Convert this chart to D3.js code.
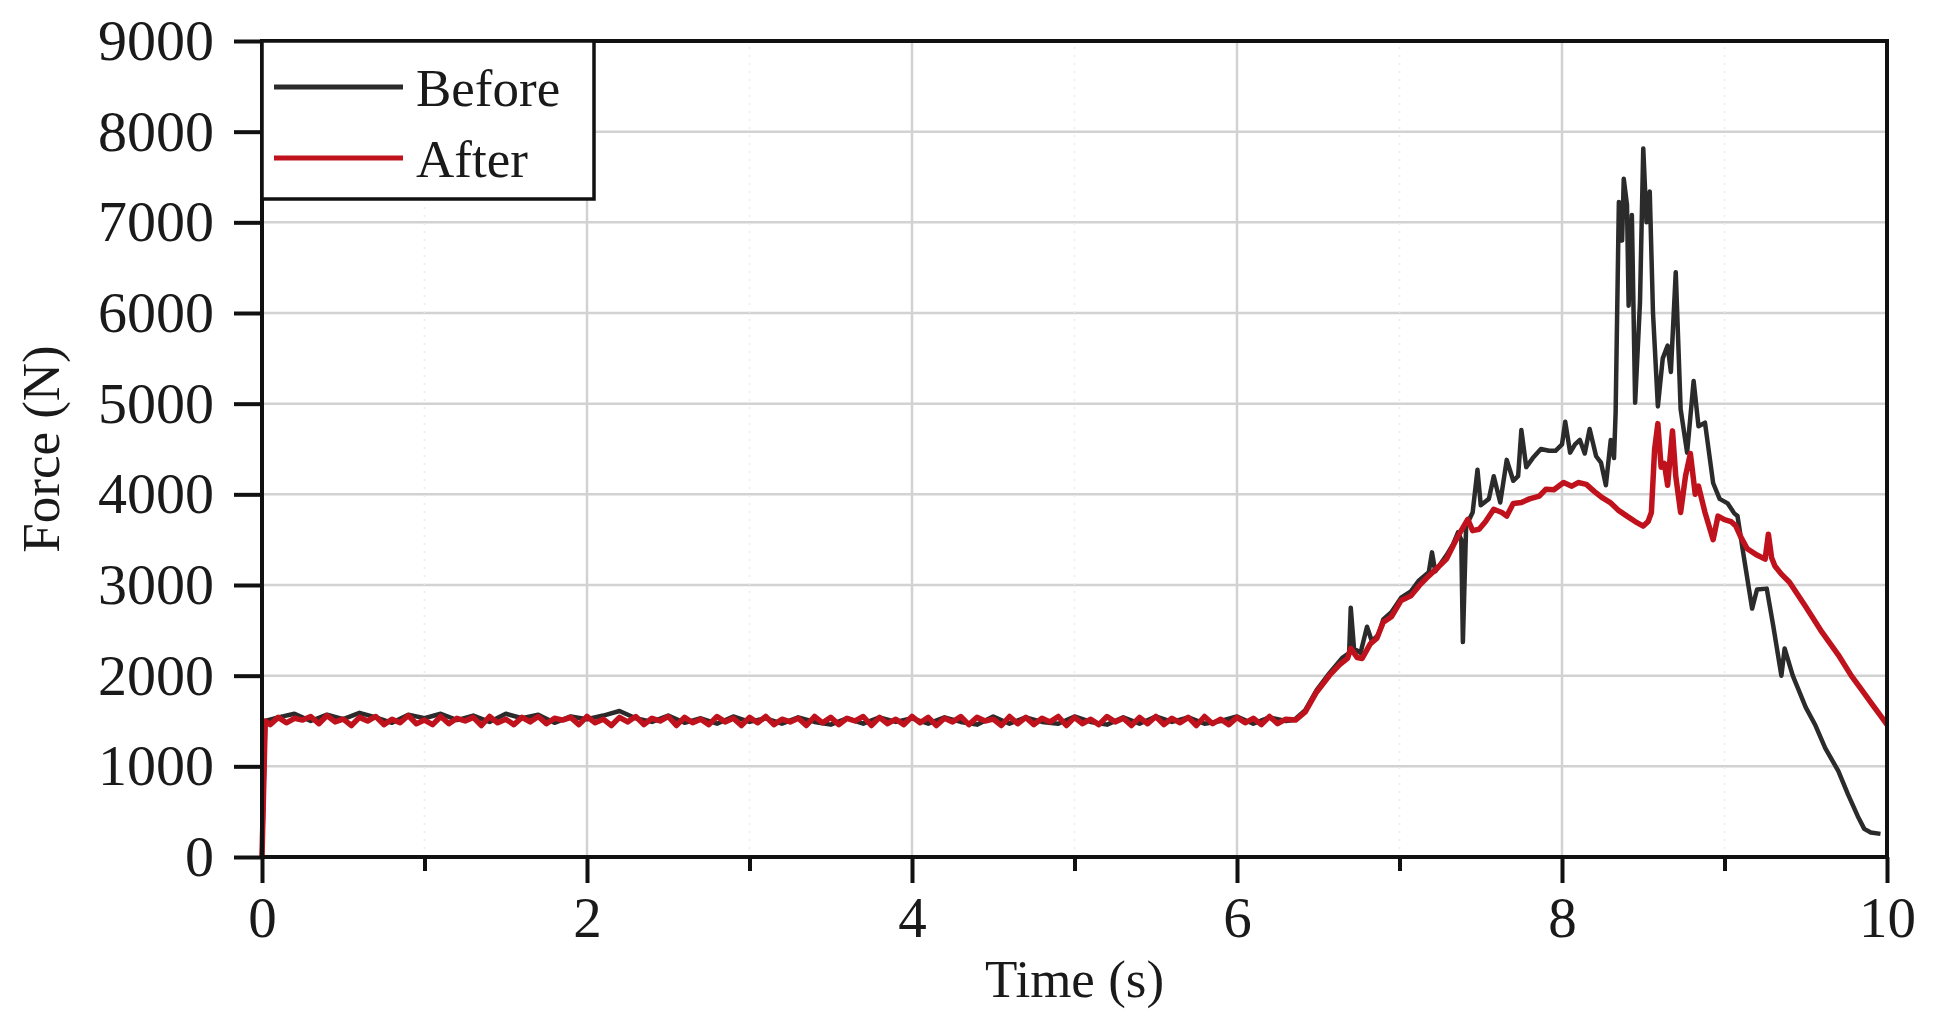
<!DOCTYPE html>
<html>
<head>
<meta charset="utf-8">
<script src="https://cdn.jsdelivr.net/npm/d3@7"></script>
<style>
  html, body { margin: 0; padding: 0; background: #fff; }
  svg { display: block; }
</style>
</head>
<body>
<script>
// data
const seriesNames = ["Before", "After"];
const seriesColors = ["#2b2b2b", "#c0121c"];
const xTicks = [0, 2, 4, 6, 8, 10];
const xMinor = [1, 3, 5, 7, 9];
const yTicks = [0, 1000, 2000, 3000, 4000, 5000, 6000, 7000, 8000, 9000];

const start = [[0, 0], [0.02, 1500]];

// before: sampled every 0.1 s on the flat part
const beforeTimes = [0.1, 0.2, 0.3, 0.4, 0.5, 0.6, 0.7, 0.8, 0.9, 1.0,
  1.1, 1.2, 1.3, 1.4, 1.5, 1.6, 1.7, 1.8, 1.9, 2.0,
  2.1, 2.2, 2.3, 2.4, 2.5, 2.6, 2.7, 2.8, 2.9, 3.0,
  3.1, 3.2, 3.3, 3.4, 3.5, 3.6, 3.7, 3.8, 3.9, 4.0,
  4.1, 4.2, 4.3, 4.4, 4.5, 4.6, 4.7, 4.8, 4.9, 5.0,
  5.1, 5.2, 5.3, 5.4, 5.5, 5.6, 5.7, 5.8, 5.9, 6.0,
  6.1, 6.2, 6.3];

const beforeFlat = [1540, 1580, 1500, 1570, 1520, 1590, 1540, 1480, 1570, 1530,
  1580, 1510, 1560, 1490, 1580, 1530, 1570, 1480, 1550, 1520,
  1560, 1610, 1530, 1490, 1560, 1480, 1530, 1470, 1550, 1490,
  1530, 1470, 1540, 1490, 1460, 1530, 1470, 1540, 1490, 1530,
  1470, 1540, 1490, 1460, 1550, 1470, 1540, 1490, 1470, 1550,
  1490, 1460, 1540, 1470, 1550, 1490, 1540, 1470, 1500, 1550,
  1470, 1540, 1500];

// after: sampled every 0.05 s on the flat part
const afterTimes = [0.05, 0.1, 0.15, 0.2, 0.25, 0.3, 0.35, 0.4, 0.45, 0.5,
  0.55, 0.6, 0.65, 0.7, 0.75, 0.8, 0.85, 0.9, 0.95, 1.0,
  1.05, 1.1, 1.15, 1.2, 1.25, 1.3, 1.35, 1.4, 1.45, 1.5,
  1.55, 1.6, 1.65, 1.7, 1.75, 1.8, 1.85, 1.9, 1.95, 2.0,
  2.05, 2.1, 2.15, 2.2, 2.25, 2.3, 2.35, 2.4, 2.45, 2.5,
  2.55, 2.6, 2.65, 2.7, 2.75, 2.8, 2.85, 2.9, 2.95, 3.0,
  3.05, 3.1, 3.15, 3.2, 3.25, 3.3, 3.35, 3.4, 3.45, 3.5,
  3.55, 3.6, 3.65, 3.7, 3.75, 3.8, 3.85, 3.9, 3.95, 4.0,
  4.05, 4.1, 4.15, 4.2, 4.25, 4.3, 4.35, 4.4, 4.45, 4.5,
  4.55, 4.6, 4.65, 4.7, 4.75, 4.8, 4.85, 4.9, 4.95, 5.0,
  5.05, 5.1, 5.15, 5.2, 5.25, 5.3, 5.35, 5.4, 5.45, 5.5,
  5.55, 5.6, 5.65, 5.7, 5.75, 5.8, 5.85, 5.9, 5.95, 6.0,
  6.05, 6.1, 6.15, 6.2, 6.25, 6.3];

const afterFlat = [1460, 1540, 1480, 1530, 1510, 1550, 1470, 1560, 1490, 1520,
  1450, 1540, 1500, 1550, 1460, 1520, 1480, 1560, 1470, 1510,
  1460, 1550, 1470, 1530, 1500, 1540, 1450, 1550, 1480, 1520,
  1460, 1540, 1490, 1550, 1470, 1530, 1510, 1540, 1460, 1550,
  1480, 1520, 1450, 1540, 1490, 1550, 1460, 1530, 1500, 1550,
  1450, 1540, 1480, 1520, 1460, 1550, 1490, 1530, 1450, 1540,
  1480, 1550, 1460, 1520, 1490, 1530, 1450, 1550, 1480, 1540,
  1460, 1530, 1500, 1550, 1450, 1540, 1470, 1520, 1460, 1550,
  1480, 1540, 1450, 1530, 1490, 1550, 1460, 1540, 1500, 1520,
  1450, 1550, 1470, 1540, 1460, 1530, 1490, 1550, 1450, 1540,
  1470, 1520, 1460, 1550, 1490, 1530, 1450, 1540, 1470, 1550,
  1460, 1530, 1480, 1540, 1450, 1550, 1470, 1520, 1460, 1540,
  1480, 1530, 1460, 1550, 1470, 1520];

const beforeRamp = [[6.35, 1510], [6.42, 1620], [6.49, 1840], [6.57, 2030], [6.65, 2200],
  [6.69, 2250], [6.70, 2750], [6.72, 2300], [6.76, 2250], [6.80, 2540], [6.83, 2380],
  [6.87, 2450], [6.90, 2620], [6.95, 2700], [7.01, 2860], [7.07, 2930], [7.12, 3050],
  [7.18, 3140], [7.20, 3360], [7.22, 3150], [7.29, 3330], [7.33, 3450], [7.36, 3580],
  [7.38, 3500], [7.39, 2370], [7.41, 3650], [7.45, 3800], [7.48, 4270], [7.50, 3880],
  [7.55, 3950], [7.58, 4200], [7.62, 3910], [7.66, 4380], [7.70, 4150], [7.73, 4200],
  [7.75, 4710], [7.78, 4300], [7.82, 4400], [7.87, 4500], [7.92, 4480], [7.96, 4480],
  [8.00, 4550], [8.02, 4800], [8.05, 4460], [8.08, 4550], [8.11, 4600], [8.14, 4450],
  [8.17, 4720], [8.21, 4420], [8.24, 4350], [8.27, 4100], [8.30, 4600], [8.32, 4400],
  [8.33, 4900], [8.35, 7225], [8.37, 6800], [8.38, 7480], [8.40, 7190], [8.41, 6080],
  [8.43, 7080], [8.45, 5010], [8.48, 6120], [8.50, 7815], [8.52, 7000], [8.54, 7340],
  [8.56, 6000], [8.59, 4970], [8.62, 5500], [8.65, 5640], [8.67, 5350], [8.70, 6450],
  [8.73, 4940], [8.77, 4460], [8.81, 5250], [8.84, 4750], [8.88, 4790], [8.93, 4125],
  [8.97, 3950], [9.02, 3900], [9.06, 3790], [9.08, 3760], [9.12, 3300], [9.17, 2740],
  [9.20, 2950], [9.26, 2960], [9.30, 2550], [9.35, 2000], [9.37, 2300], [9.42, 2000],
  [9.50, 1650], [9.56, 1450], [9.62, 1200], [9.70, 950], [9.76, 690], [9.82, 450],
  [9.86, 310], [9.90, 270], [9.96, 255]];

const afterRamp = [[6.36, 1510], [6.42, 1600], [6.49, 1820], [6.57, 2005], [6.63, 2120],
  [6.68, 2190], [6.70, 2300], [6.74, 2200], [6.77, 2190], [6.82, 2350], [6.86, 2410],
  [6.90, 2590], [6.95, 2650], [7.01, 2830], [7.07, 2880], [7.12, 2990], [7.18, 3100],
  [7.24, 3200], [7.29, 3290], [7.36, 3540], [7.42, 3725], [7.45, 3600], [7.49, 3615],
  [7.53, 3700], [7.58, 3835], [7.63, 3800], [7.66, 3760], [7.70, 3900], [7.75, 3910],
  [7.80, 3950], [7.86, 3980], [7.90, 4055], [7.95, 4050], [8.01, 4130], [8.06, 4090],
  [8.10, 4130], [8.15, 4110], [8.20, 4030], [8.25, 3960], [8.30, 3905], [8.35, 3820],
  [8.40, 3760], [8.45, 3700], [8.50, 3650], [8.53, 3700], [8.55, 3800], [8.57, 4500],
  [8.59, 4780], [8.61, 4300], [8.63, 4340], [8.65, 4100], [8.68, 4700], [8.70, 4200],
  [8.73, 3800], [8.76, 4200], [8.79, 4450], [8.82, 4000], [8.84, 4090], [8.88, 3800],
  [8.93, 3500], [8.96, 3760], [9.00, 3720], [9.04, 3700], [9.07, 3650], [9.10, 3530],
  [9.14, 3400], [9.20, 3330], [9.25, 3285], [9.27, 3560], [9.29, 3300], [9.31, 3210],
  [9.35, 3120], [9.40, 3030], [9.50, 2760], [9.60, 2480], [9.70, 2230], [9.78, 2000],
  [9.85, 1830], [9.91, 1680], [9.96, 1560], [10.0, 1460]];

const width = 1938, height = 1032;
const margin = {top: 41, right: 51, bottom: 175, left: 262};
const font = "'Liberation Serif', 'Times New Roman', serif";

const before = start.concat(beforeTimes.map((t, i) => [t, beforeFlat[i]]), beforeRamp);
const after = start.concat(afterTimes.map((t, i) => [t, afterFlat[i]]), afterRamp);
const series = [before, after];
const strokeWidths = [4.5, 5.5];

const x = d3.scaleLinear().domain([0, 10]).range([margin.left, width - margin.right]);
const y = d3.scaleLinear().domain([0, 9000]).range([height - margin.bottom, margin.top]);

const svg = d3.select("body").append("svg")
    .attr("width", width)
    .attr("height", height)
    .style("font-family", font);

svg.append("rect").attr("width", width).attr("height", height).attr("fill", "#fff");

// grid
svg.append("g")
    .selectAll("line")
    .data(yTicks.slice(1))
    .join("line")
    .attr("x1", x(0)).attr("x2", x(10))
    .attr("y1", d => y(d)).attr("y2", d => y(d))
    .attr("stroke", "#d2d2d2").attr("stroke-width", 2.5);

svg.append("g")
    .selectAll("line")
    .data(xTicks.slice(1, -1))
    .join("line")
    .attr("x1", d => x(d)).attr("x2", d => x(d))
    .attr("y1", y(0)).attr("y2", y(9000))
    .attr("stroke", "#d2d2d2").attr("stroke-width", 2.5);

svg.append("g")
    .selectAll("line")
    .data(xMinor)
    .join("line")
    .attr("x1", d => x(d)).attr("x2", d => x(d))
    .attr("y1", y(0)).attr("y2", y(9000))
    .attr("stroke", "#ececec").attr("stroke-width", 1.5)
    .attr("stroke-dasharray", "2,6");

// lines
const line = d3.line().x(d => x(d[0])).y(d => y(d[1]));

svg.append("g")
    .selectAll("path")
    .data(series)
    .join("path")
    .attr("d", line)
    .attr("fill", "none")
    .attr("stroke", (d, i) => seriesColors[i])
    .attr("stroke-width", (d, i) => strokeWidths[i])
    .attr("stroke-linejoin", "round");

// axes
const xAxis = svg.append("g")
    .attr("transform", `translate(0,${y(0)})`)
    .call(d3.axisBottom(x).tickValues(xTicks).tickSize(26).tickPadding(14).tickFormat(d3.format("d")));
xAxis.selectAll(".tick line").attr("stroke", "#111").attr("stroke-width", 4);
xAxis.selectAll(".tick text").attr("font-size", 57).attr("fill", "#1a1a1a").attr("font-family", font);
xAxis.select(".domain").remove();

svg.append("g")
    .attr("transform", `translate(0,${y(0)})`)
    .call(d3.axisBottom(x).tickValues(xMinor).tickSize(14).tickFormat(""))
    .call(g => g.select(".domain").remove())
    .selectAll(".tick line").attr("stroke", "#111").attr("stroke-width", 4);

const yAxis = svg.append("g")
    .attr("transform", `translate(${x(0)},0)`)
    .call(d3.axisLeft(y).tickValues(yTicks).tickSize(28).tickPadding(20).tickFormat(d3.format("d")));
yAxis.selectAll(".tick line").attr("stroke", "#111").attr("stroke-width", 4);
yAxis.selectAll(".tick text").attr("font-size", 58).attr("fill", "#1a1a1a").attr("font-family", font);
yAxis.select(".domain").remove();

// frame
svg.append("rect")
    .attr("x", x(0)).attr("y", y(9000))
    .attr("width", x(10) - x(0)).attr("height", y(0) - y(9000))
    .attr("fill", "none").attr("stroke", "#111").attr("stroke-width", 4);

// axis titles
svg.append("text")
    .attr("x", (x(0) + x(10)) / 2)
    .attr("y", 997)
    .attr("text-anchor", "middle")
    .attr("font-size", 53)
    .attr("fill", "#1a1a1a")
    .text("Time (s)");

svg.append("text")
    .attr("transform", `translate(59,${(y(0) + y(9000)) / 2}) rotate(-90)`)
    .attr("text-anchor", "middle")
    .attr("font-size", 53)
    .attr("fill", "#1a1a1a")
    .text("Force (N)");

// legend
const legend = svg.append("g").attr("transform", `translate(${x(0)},${y(9000)})`);
legend.append("rect")
    .attr("width", 332).attr("height", 158)
    .attr("fill", "#fff").attr("stroke", "#111").attr("stroke-width", 3.5);

const item = legend.selectAll("g.item")
    .data(seriesNames)
    .join("g")
    .attr("class", "item")
    .attr("transform", (d, i) => `translate(0,${46 + i * 71})`);

item.append("line")
    .attr("x1", 12).attr("x2", 141)
    .attr("stroke", (d, i) => seriesColors[i])
    .attr("stroke-width", 5);

item.append("text")
    .attr("x", 154)
    .attr("dy", "0.35em")
    .attr("font-size", 53)
    .attr("fill", "#1a1a1a")
    .text(d => d);
</script>
</body>
</html>
